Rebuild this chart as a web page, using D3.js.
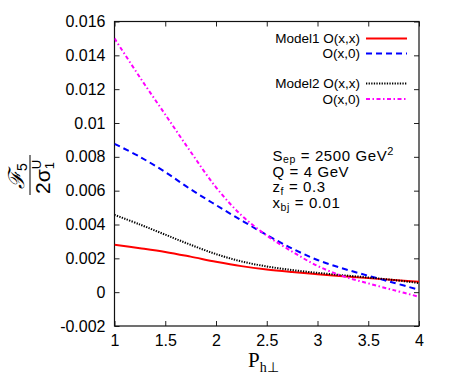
<!DOCTYPE html>
<html>
<head>
<meta charset="utf-8">
<script src="https://cdn.jsdelivr.net/npm/d3@7"></script>
<style>
  body { margin: 0; background: #fff; }
  svg { display: block; font-family: "Liberation Sans", Arial, sans-serif; }
  .tick text { font-size: 16px; fill: #000; }
  .domain { display: none; }
  .tick line { stroke: #222; }
</style>
</head>
<body>
<div id="chart"></div>
<script>
const xs = [1, 1.25, 1.5, 1.75, 2, 2.25, 2.5, 2.75, 3, 3.25, 3.5, 3.75, 4]
const model1Oxx = [0.0028, 0.0026, 0.00238, 0.0021, 0.0018, 0.00154, 0.00134, 0.00119, 0.00106, 0.00094, 0.00083, 0.00072, 0.00062]
const model1Ox0 = [0.00877, 0.008, 0.0071, 0.00608, 0.00515, 0.00425, 0.00338, 0.00258, 0.0019, 0.0014, 0.00097, 0.00056, 0.00014]
const model2Oxx = [0.00457, 0.004, 0.0034, 0.0028, 0.00225, 0.00182, 0.00152, 0.00131, 0.00114, 0.001, 0.00087, 0.00072, 0.00054]
const model2Ox0 = [0.015, 0.0127, 0.0105, 0.0083, 0.0062, 0.00455, 0.00335, 0.0024, 0.00155, 0.00095, 0.00052, 0.00012, -0.00027]
const xTicks = [1, 1.5, 2, 2.5, 3, 3.5, 4]
const yTicks = [-0.002, 0, 0.002, 0.004, 0.006, 0.008, 0.01, 0.012, 0.014, 0.016]
const legendNames = ["Model1 O(x,x)", "O(x,0)", "Model2 O(x,x)", "O(x,0)"]
const infoLines = [["S", "ep", " = 2500 GeV", "2"], ["Q", "", " = 4 GeV", ""], ["z", "f", " = 0.3", ""], ["x", "bj", " = 0.01", ""]]

const width = 450
const height = 382
const pLeft = 114.5, pRight = 419, pTop = 21.5, pBottom = 326

const svg = d3.select("#chart").append("svg").attr("width", width).attr("height", height)

const x = d3.scaleLinear().domain([1, 4]).range([pLeft, pRight])
const y = d3.scaleLinear().domain([-0.002, 0.016]).range([pBottom, pTop])

// axes with inward ticks, mirrored on top and right
svg.append("g").attr("transform", `translate(0,${pBottom})`)
    .call(d3.axisBottom(x).tickValues(xTicks).tickSize(-5).tickPadding(9).tickFormat(d3.format("")))
svg.append("g").attr("transform", `translate(0,${pTop})`)
    .call(d3.axisTop(x).tickValues(xTicks).tickSize(-5).tickFormat(""))
svg.append("g").attr("transform", `translate(${pLeft},0)`)
    .call(d3.axisLeft(y).tickValues(yTicks).tickSize(-5).tickPadding(9).tickFormat(d => d === 0 ? "0" : String(+d.toFixed(3))))
svg.append("g").attr("transform", `translate(${pRight},0)`)
    .call(d3.axisRight(y).tickValues(yTicks).tickSize(-5).tickFormat(""))

svg.append("rect").attr("x", pLeft).attr("y", pTop).attr("width", pRight - pLeft).attr("height", pBottom - pTop)
    .attr("fill", "none").attr("stroke", "#111").attr("stroke-width", 1.2)

const series = [
    { vals: model1Oxx, color: "#ff0000", dash: null, w: 2 },
    { vals: model1Ox0, color: "#0000ff", dash: "6,4", w: 2 },
    { vals: model2Oxx, color: "#000000", dash: "1.3,1.3", w: 2 },
    { vals: model2Ox0, color: "#ff00ff", dash: "4,2.5,1.5,2.5", w: 2 }
]

const line = d3.line().x(d => x(d[0])).y(d => y(d[1])).curve(d3.curveCatmullRom.alpha(0.5))

svg.append("defs").append("clipPath").attr("id", "clip").append("rect")
    .attr("x", pLeft).attr("y", pTop).attr("width", pRight - pLeft).attr("height", pBottom - pTop)

series.forEach(s => {
    svg.append("path").datum(xs.map((v, i) => [v, s.vals[i]]))
        .attr("d", line).attr("fill", "none").attr("stroke", s.color)
        .attr("stroke-width", s.w).attr("stroke-dasharray", s.dash).attr("clip-path", "url(#clip)")
})

// legend
const legendY = [38.5, 53.5, 83.5, 99]
series.forEach((s, i) => {
    svg.append("text").attr("x", 360).attr("y", legendY[i]).attr("dy", "0.35em")
        .attr("text-anchor", "end").style("font-size", "13.5px").text(legendNames[i])
    svg.append("line").attr("x1", 366).attr("x2", 407).attr("y1", legendY[i]).attr("y2", legendY[i])
        .attr("stroke", s.color).attr("stroke-width", s.w).attr("stroke-dasharray", s.dash)
})

// parameters box
infoLines.forEach((l, i) => {
    const t = svg.append("text").attr("x", 272.5).attr("y", 160.7 + i * 15.8)
        .style("font-size", "15px").style("letter-spacing", "0.6px")
    t.append("tspan").text(l[0])
    if (l[1]) t.append("tspan").attr("dy", 2.5).style("font-size", "10.5px").text(l[1])
    t.append("tspan").attr("dy", l[1] ? -2.5 : 0).text(l[2])
    if (l[3]) t.append("tspan").attr("dy", -6).style("font-size", "11px").text(l[3])
})

// x label
const xl = svg.append("text").attr("x", 248).attr("y", 367)
    .style("font-family", "'Liberation Serif', 'Times New Roman', serif").style("font-size", "21px")
xl.append("tspan").text("P")
xl.append("tspan").attr("dy", 5).style("font-size", "14px").text("h⊥")

// y label: fraction
const yl = svg.append("g").attr("transform", "translate(30,175) rotate(-90)")
yl.append("line").attr("x1", -20).attr("x2", 20).attr("y1", 0).attr("y2", 0).attr("stroke", "#000").attr("stroke-width", 1)
const num = yl.append("text").attr("x", -1).attr("y", -6).attr("text-anchor", "middle")
num.append("tspan").style("font-family", "'DejaVu Serif', serif").style("font-style", "italic").style("font-size", "22px").text("ℱ")
num.append("tspan").attr("dy", 3).style("font-size", "14px").text("5")
const den = yl.append("text").attr("x", -19).attr("y", 20).style("font-size", "21px")
den.append("tspan").text("2σ")
den.append("tspan").attr("dy", 4).style("font-size", "13px").text("1")
den.append("tspan").attr("dx", -7).attr("dy", -13).style("font-size", "13px").text("U")
</script>
</body>
</html>
